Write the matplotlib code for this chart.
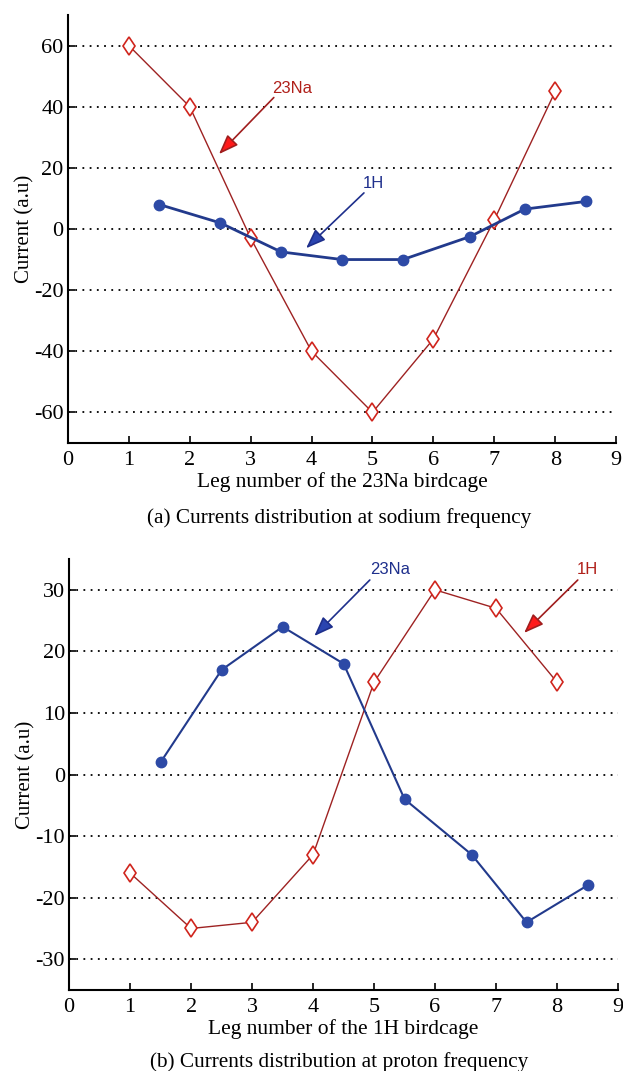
import matplotlib
matplotlib.use("Agg")
import matplotlib.pyplot as plt

# ---- data ----
legs_dia = [1, 2, 3, 4, 5, 6, 7, 8]
legs_dot = [1.5, 2.5, 3.5, 4.5, 5.5, 6.6, 7.5, 8.5]

a_na = [60, 40, -3, -40, -60, -36, 3, 45]          # 23Na (red diamonds), sodium freq
a_h = [8, 2, -7.5, -10, -10, -2.5, 6.5, 9]         # 1H (blue dots), sodium freq

b_h = [-16, -25, -24, -13, 15, 30, 27, 15]         # 1H (red diamonds), proton freq
b_na = [2, 17, 24, 18, -4, -13, -24, -18]          # 23Na (blue dots), proton freq

xticks = list(range(0, 10))
a_yticks = [-60, -40, -20, 0, 20, 40, 60]
b_yticks = [-30, -20, -10, 0, 10, 20, 30]

RED_LINE = "#9e2222"
RED_MK = "#d0241c"
BLUE_LINE = "#223a8c"
BLUE_MK = "#2d4aa6"

serif = ["Liberation Serif", "DejaVu Serif"]
sans = ["Liberation Sans", "DejaVu Sans"]

fig = plt.figure(figsize=(6.23, 10.71), dpi=100)

def style_axes(ax, yticks, ylim):
    ax.set_xlim(0, 9)
    ax.set_ylim(*ylim)
    ax.set_xticks(xticks)
    ax.set_yticks(yticks)
    ax.set_xticklabels([str(t) for t in xticks], fontfamily=serif, fontsize=16)
    ax.set_yticklabels([str(t) for t in yticks], fontfamily=serif, fontsize=16)
    ax.tick_params(direction="in", length=5, width=1.2)
    ax.tick_params(axis="x", pad=6)
    ax.tick_params(axis="y", pad=3)
    ax.spines["top"].set_visible(False)
    ax.spines["right"].set_visible(False)
    ax.spines["left"].set_linewidth(1.5)
    ax.spines["bottom"].set_linewidth(1.5)
    ax.yaxis.grid(True, linestyle=(0, (1, 3)), color="black", linewidth=1.3)
    ax.set_axisbelow(True)
    ax.set_ylabel("Current (a.u)", fontfamily=serif, fontsize=15, labelpad=0)

def arrow(ax, text, txy, tail, head, tcolor, scolor, hcolor):
    ax.text(txy[0], txy[1], text, color=tcolor, fontsize=12, fontfamily=sans,
            ha="center", va="center")
    ax.annotate("", xy=head, xytext=tail,
                arrowprops=dict(arrowstyle="-|>,head_length=1.2,head_width=0.45",
                                ec=scolor, fc=hcolor, lw=1.2, shrinkA=0, shrinkB=0))

# ---- (a) ----
ax1 = fig.add_axes([0.109, 0.5864, 0.880, 0.3996])
ax1.plot(legs_dia, a_na, color=RED_LINE, lw=1.0, marker="d", ms=9.5,
         mfc="white", mec=RED_MK, mew=1.2, zorder=3)
ax1.plot(legs_dot, a_h, color=BLUE_LINE, lw=2.0, marker="o", ms=7.5,
         mfc=BLUE_MK, mec=BLUE_MK, zorder=4)
style_axes(ax1, a_yticks, (-70, 70))
ax1.set_xlabel("Leg number of the 23Na birdcage", fontfamily=serif, fontsize=15.5, labelpad=1)
arrow(ax1, "23Na", (3.68, 46), (3.38, 43), (2.48, 24.5), "#b0201a", "#a01e1e", "#ff1a1a")
arrow(ax1, "1H", (5.02, 15), (4.86, 11.8), (3.91, -6.3), "#1e2f8c", "#1e2f8c", "#2a44b0")
fig.text(0.545, 1 - 518 / 1071, "(a) Currents distribution at sodium frequency",
         fontfamily=serif, fontsize=15.3, ha="center", va="center")

# ---- (b) ----
ax2 = fig.add_axes([0.111, 0.0756, 0.881, 0.4024])
ax2.plot(legs_dia, b_h, color=RED_LINE, lw=1.0, marker="d", ms=9.5,
         mfc="white", mec=RED_MK, mew=1.2, zorder=3)
ax2.plot(legs_dot, b_na, color=BLUE_LINE, lw=1.5, marker="o", ms=7.5,
         mfc=BLUE_MK, mec=BLUE_MK, zorder=4)
style_axes(ax2, b_yticks, (-35, 35))
ax2.set_xlabel("Leg number of the 1H birdcage", fontfamily=serif, fontsize=15.5, labelpad=1)
arrow(ax2, "23Na", (5.26, 33.3), (4.93, 31.6), (4.02, 22.5), "#1e2f8c", "#1e2f8c", "#2a44b0")
arrow(ax2, "1H", (8.5, 33.3), (8.34, 31.6), (7.46, 23.0), "#b0201a", "#a01e1e", "#ff1a1a")
fig.text(0.545, 1 - 1062 / 1071, "(b) Currents distribution at proton frequency",
         fontfamily=serif, fontsize=15.3, ha="center", va="center")

fig.savefig("out.png", dpi=100)
